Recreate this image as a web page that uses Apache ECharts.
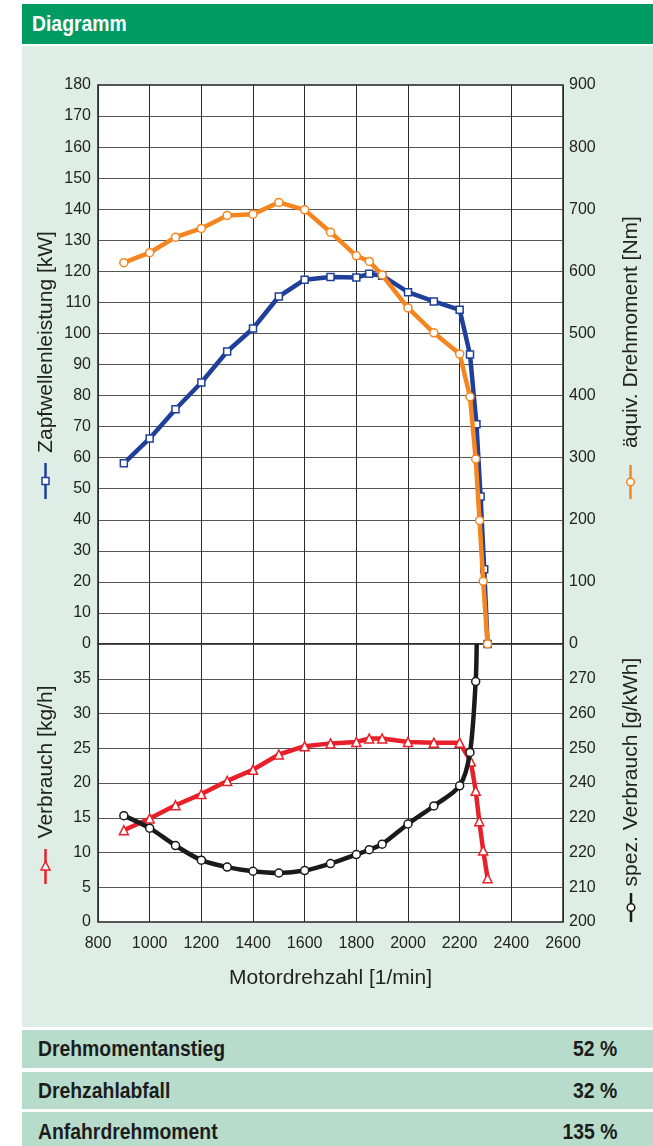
<!DOCTYPE html>
<html>
<head>
<meta charset="utf-8">
<script src="https://cdn.jsdelivr.net/npm/echarts@6/dist/echarts.min.js"></script>
<style>
  body { margin:0; background:#fff; width:653px; height:1146px; overflow:hidden; }
  .blk { position:absolute; left:22px; width:631px; box-sizing:border-box; }
  .cond { display:inline-block; transform:scaleX(0.88); }
  #hdr { top:4px; height:40px; background:#009a63; color:#fff; font:bold 22px 'Liberation Sans', sans-serif; line-height:40px; padding-left:10px; }
  #hdr .cond { transform-origin:left center; }
  #panel { top:46px; height:981px; background:#deeee6; }
  .row { background:#b8dccb; color:#1c1c1c; font:bold 22px 'Liberation Sans', sans-serif; padding-left:16px; padding-right:36px; display:flex; justify-content:space-between; align-items:center; }
  .row .l { transform-origin:left center; }
  .row .r { transform-origin:right center; }
  #chart { position:absolute; left:0; top:0; width:653px; height:1028px; }
</style>
</head>
<body>
<div id="hdr" class="blk"><span class="cond">Diagramm</span></div>
<div id="panel" class="blk"></div>
<div id="tbl"></div>
<div id="chart"></div>
<script>
// ---- data ----
const powerRpm = [900,1000,1100,1200,1300,1400,1500,1600,1700,1800,1850,1900,2000,2100,2200,2240,2265,2281,2295,2308];
const powerKw  = [58.2,66.2,75.6,84.2,94.2,101.6,111.9,117.3,118.2,118.0,119.2,118.6,113.3,110.3,107.6,93.2,70.8,47.5,24.1,0];

const torqueRpm = [900,1000,1100,1200,1300,1400,1500,1600,1700,1800,1850,1900,2000,2100,2200,2240,2262,2277,2291,2308];
const torqueNm  = [614,630,655,669,690,692,711,699,663,625,616,594,541,501,467,398,298,199,101,0];

const fuelRpm  = [900,1000,1100,1200,1300,1400,1500,1600,1700,1800,1850,1900,2000,2100,2200,2243,2262,2276,2291,2308];
const fuelKgh  = [13.2,14.9,16.8,18.4,20.3,21.9,24.1,25.3,25.7,25.9,26.4,26.4,25.9,25.8,25.8,23.1,18.9,14.5,10.3,6.3];

const specRpm  = [900,1000,1100,1200,1300,1400,1500,1600,1700,1800,1850,1900,2000,2100,2200,2240,2262,2266];
const specGkwh = [230.6,227.0,222.0,217.8,215.8,214.6,214.1,214.8,216.8,219.4,220.8,222.4,228.2,233.4,239.2,248.8,269.2,280];

const specTickLabels = ['200','210','220','220','240','250','260','270',''];

const tableLabels = ['Drehmomentanstieg','Drehzahlabfall','Anfahrdrehmoment'];
const tableValues = ['52 %','32 %','135 %'];

// ---- table ----
const rowTops = [1030, 1072, 1112];
const rowHeights = [38, 37, 40];
const tbl = document.getElementById('tbl');
tableLabels.forEach((t, i) => {
  const d = document.createElement('div');
  d.className = 'blk row';
  d.style.top = rowTops[i] + 'px';
  d.style.height = rowHeights[i] + 'px';
  const a = document.createElement('span'); a.className = 'cond l'; a.textContent = t;
  const b = document.createElement('span'); b.className = 'cond r'; b.textContent = tableValues[i];
  d.appendChild(a); d.appendChild(b);
  tbl.appendChild(d);
});

// ---- chart ----
const C = { blue:'#1f3f9b', orange:'#f5861f', red:'#e8202a', black:'#1a1a1a', text:'#222' };
const FONT = 'Liberation Sans';
const zip = (xs, ys) => xs.map((x, i) => [x, ys[i]]);

const L = 98, W = 465, T1 = 85, H1 = 559, T2 = 644, H2 = 278;

const xCommon = {
  type:'value', min:800, max:2600, interval:200,
  axisLine:{show:false}, axisTick:{show:false},
  splitLine:{show:true, lineStyle:{color:'#2a2a2a', width:1}}
};
const ySplit = {show:true, lineStyle:{color:'#555', width:1}};
const lab = {color:C.text, fontSize:16, fontFamily:FONT};

const chart = echarts.init(document.getElementById('chart'), null, {renderer:'canvas'});

function vSym(x, yTop, yBot, color, marker) {
  const cy = (yTop + yBot) / 2;
  const els = [{type:'line', shape:{x1:x, y1:yTop, x2:x, y2:yBot}, style:{stroke:color, lineWidth:2.5}}];
  if (marker === 'rect') els.push({type:'rect', shape:{x:x-3.5, y:cy-3.5, width:7, height:7}, style:{fill:'#fff', stroke:color, lineWidth:1.5}});
  if (marker === 'circle') els.push({type:'circle', shape:{cx:x, cy:cy, r:3.8}, style:{fill:'#fff', stroke:color, lineWidth:1.5}});
  if (marker === 'tri') els.push({type:'polygon', shape:{points:[[x, cy-5],[x-4.5, cy+3.5],[x+4.5, cy+3.5]]}, style:{fill:'#fff', stroke:color, lineWidth:1.5}});
  return els;
}
function vText(x, y, text) {
  return {type:'text', x:x, y:y, rotation:Math.PI/2,
    style:{text:text, fontSize:21, fontFamily:FONT, fill:C.text, align:'center', verticalAlign:'middle'}};
}

chart.setOption({
  animation:false,
  backgroundColor:'transparent',
  grid:[
    {left:L, top:T1, width:W, height:H1, show:true, backgroundColor:'#fff', borderColor:'#222', borderWidth:1.5},
    {left:L, top:T2, width:W, height:H2, show:true, backgroundColor:'#fff', borderColor:'#222', borderWidth:1.5}
  ],
  xAxis:[
    Object.assign({gridIndex:0, axisLabel:{show:false}}, xCommon),
    Object.assign({gridIndex:1, axisLabel:Object.assign({margin:14, formatter:v => String(v)}, lab),
      name:'Motordrehzahl [1/min]', nameLocation:'middle', nameGap:46,
      nameTextStyle:{color:C.text, fontSize:21, fontFamily:FONT}}, xCommon)
  ],
  yAxis:[
    {gridIndex:0, type:'value', min:0, max:180, interval:10, position:'left',
      axisLine:{show:false}, axisTick:{show:false}, splitLine:ySplit,
      axisLabel:Object.assign({margin:7, formatter:v => String(v)}, lab)},
    {gridIndex:0, type:'value', min:0, max:900, interval:100, position:'right',
      axisLine:{show:false}, axisTick:{show:false}, splitLine:{show:false},
      axisLabel:Object.assign({margin:6, formatter:v => String(v)}, lab)},
    {gridIndex:1, type:'value', min:0, max:40, interval:5, position:'left',
      axisLine:{show:false}, axisTick:{show:false}, splitLine:ySplit,
      axisLabel:Object.assign({margin:7, formatter:v => v === 40 ? '' : String(v)}, lab)},
    {gridIndex:1, type:'value', min:200, max:280, interval:10, position:'right',
      axisLine:{show:false}, axisTick:{show:false}, splitLine:{show:false},
      axisLabel:Object.assign({margin:6, formatter:(v) => specTickLabels[Math.round((v - 200) / 10)]}, lab)}
  ],
  series:[
    {type:'line', xAxisIndex:0, yAxisIndex:0, data:zip(powerRpm, powerKw),
      symbol:'rect', symbolSize:7, showAllSymbol:true, z:3,
      lineStyle:{color:C.blue, width:4.5}, itemStyle:{color:'#fff', borderColor:C.blue, borderWidth:1.5}},
    {type:'line', xAxisIndex:0, yAxisIndex:1, data:zip(torqueRpm, torqueNm),
      symbol:'circle', symbolSize:8, showAllSymbol:true, z:4,
      lineStyle:{color:C.orange, width:4.5}, itemStyle:{color:'#fff', borderColor:C.orange, borderWidth:1.5}},
    {type:'line', xAxisIndex:1, yAxisIndex:2, data:zip(fuelRpm, fuelKgh),
      symbol:'triangle', symbolSize:9, showAllSymbol:true, z:3,
      lineStyle:{color:C.red, width:4.5}, itemStyle:{color:'#fff', borderColor:C.red, borderWidth:1.5}},
    {type:'line', xAxisIndex:1, yAxisIndex:3, smooth:0.3,
      data:zip(specRpm, specGkwh).map((p, i, a) => i === a.length - 1 ? {value:p, symbol:'none'} : p),
      symbol:'circle', symbolSize:8, showAllSymbol:true, z:4,
      lineStyle:{color:C.black, width:4.5}, itemStyle:{color:'#fff', borderColor:C.black, borderWidth:1.5}}
  ],
  graphic:[
    vText(46, 342, 'Zapfwellenleistung [kW]'),
    ...vSym(45.5, 463, 499, C.blue, 'rect'),
    vText(631, 332, 'äquiv. Drehmoment [Nm]'),
    ...vSym(630.5, 465, 499, C.orange, 'circle'),
    vText(46, 762, 'Verbrauch [kg/h]'),
    ...vSym(45.5, 849, 884, C.red, 'tri'),
    vText(631, 772, 'spez. Verbrauch [g/kWh]'),
    ...vSym(631, 893, 922, C.black, 'circle')
  ]
});
</script>
</body>
</html>
